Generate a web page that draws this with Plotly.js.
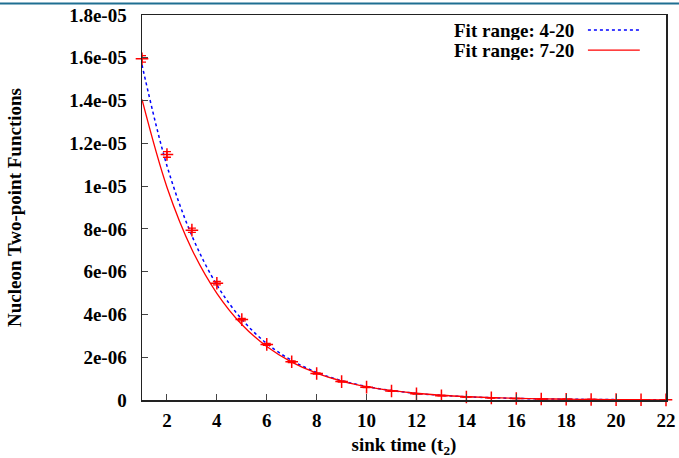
<!DOCTYPE html>
<html><head><meta charset="utf-8">
<script src="https://cdn.plot.ly/plotly-3.0.1.min.js"></script>
<style>html,body{margin:0;padding:0;background:#fff}</style>
</head><body><div id="chart" style="width:679px;height:458px"></div>
<script>
const sinkTime = [1,2,3,4,5,6,7,8,9,10,11,12,13,14,15,16,17,18,19,20,21,22];
const twoPoint = [1.595e-5,1.148e-5,7.94e-6,5.46e-6,3.76e-6,2.60e-6,1.79e-6,1.24e-6,8.6e-7,6.0e-7,4.2e-7,2.9e-7,2.0e-7,1.4e-7,1.0e-7,7e-8,5e-8,3.5e-8,2.4e-8,1.7e-8,1.2e-8,8e-9];
const twoPointErr = [1.5e-7,1.3e-7,1.0e-7,8e-8,6e-8,5e-8,4e-8,3e-8,2.5e-8,2e-8,1.5e-8,1.2e-8,1e-8,8e-9,6e-9,5e-9,4e-9,3e-9,3e-9,2e-9,2e-9,2e-9];
const fitTime = [1,2,3,4,5,6,7,8,9,10,11,12,13,14,15,16,17,18,19,20,21,22];
const fit4to20 = [1.567e-5,1.095e-5,7.68e-6,5.38e-6,3.77e-6,2.64e-6,1.85e-6,1.29e-6,9.05e-7,6.34e-7,4.44e-7,3.11e-7,2.18e-7,1.52e-7,1.07e-7,7.5e-8,5.2e-8,3.7e-8,2.6e-8,1.8e-8,1.2e-8,9e-9];
const fit7to20 = [1.405e-5,9.95e-6,7.04e-6,4.99e-6,3.53e-6,2.50e-6,1.77e-6,1.253e-6,8.87e-7,6.28e-7,4.45e-7,3.15e-7,2.23e-7,1.58e-7,1.12e-7,7.9e-8,5.6e-8,4.0e-8,2.8e-8,2.0e-8,1.4e-8,1.0e-8];
const seriesNames = ['Fit range: 4-20','Fit range: 7-20'];
const yTickVals = [0,2e-6,4e-6,6e-6,8e-6,1e-5,1.2e-5,1.4e-5,1.6e-5,1.8e-5];
const yTickText = ['0','2e-06','4e-06','6e-06','8e-06','1e-05','1.2e-05','1.4e-05','1.6e-05','1.8e-05'];
const xTickVals = [2,4,6,8,10,12,14,16,18,20,22];
const xTitle = 'sink time (t<sub>2</sub>)';
const yTitle = 'Nucleon Two-point Functions';

const FONT = 'Liberation Serif, DejaVu Serif, serif';
const FS = 19;
const traces = [
  {x: fitTime, y: fit4to20, type: 'scatter', mode: 'lines', name: seriesNames[0],
   line: {color: '#0000ff', width: 1.5, dash: 'dot', shape: 'spline'}},
  {x: fitTime, y: fit7to20, type: 'scatter', mode: 'lines', name: seriesNames[1],
   line: {color: '#ff0000', width: 1.3, shape: 'spline'}},
  {x: sinkTime, y: twoPoint, type: 'scatter', mode: 'markers', name: 'data', cliponaxis: false,
   marker: {symbol: 'cross-thin-open', size: 9, color: '#ff0000', line: {color: '#ff0000', width: 1.5}},
   error_y: {type: 'data', array: twoPointErr, visible: true, color: '#ff0000', thickness: 1.3, width: 4}}
];
const layout = {
  width: 679, height: 458,
  margin: {l: 142, r: 13, t: 15, b: 58},
  paper_bgcolor: '#fff', plot_bgcolor: '#fff',
  showlegend: false,
  font: {family: FONT, color: '#000'},
  xaxis: {range: [1, 22], tickvals: xTickVals, ticks: 'inside', ticklen: 6, tickcolor: '#444',
    showgrid: false, zeroline: false, showline: true, mirror: true, linecolor: '#222', linewidth: 1.5,
    tickfont: {family: FONT, size: FS, weight: 'bold'}, ticklabelstandoff: 3,
    title: {text: xTitle, font: {family: FONT, size: FS, weight: 'bold'}, standoff: 10}},
  yaxis: {range: [0, 1.8e-5], tickvals: yTickVals, ticktext: yTickText, ticks: 'inside', ticklen: 6, tickcolor: '#444',
    showgrid: false, zeroline: false, showline: true, mirror: true, linecolor: '#222', linewidth: 1.5,
    tickfont: {family: FONT, size: FS, weight: 'bold'}, ticklabelstandoff: 10,
    title: {text: yTitle, font: {family: FONT, size: FS, weight: 'bold'}, standoff: 42}},
  annotations: [
    {xref: 'paper', yref: 'paper', x: 0.828, y: 0.961, xanchor: 'right', yanchor: 'middle', showarrow: false, height: 20, valign: 'middle',
     text: seriesNames[0], font: {family: FONT, size: FS, weight: 'bold'}},
    {xref: 'paper', yref: 'paper', x: 0.828, y: 0.909, xanchor: 'right', yanchor: 'middle', showarrow: false, height: 20, valign: 'middle',
     text: seriesNames[1], font: {family: FONT, size: FS, weight: 'bold'}}
  ],
  shapes: [
    {type: 'line', xref: 'paper', yref: 'paper', x0: 0.851, x1: 0.950, y0: 0.961, y1: 0.961,
     line: {color: '#0000ff', width: 1.5, dash: 'dot'}},
    {type: 'line', xref: 'paper', yref: 'paper', x0: 0.851, x1: 0.950, y0: 0.909, y1: 0.909,
     line: {color: '#ff0000', width: 1.3}},
    {type: 'line', xref: 'paper', yref: 'paper', x0: -0.3, x1: 1.1, y0: 1.03, y1: 1.03,
     line: {color: '#1f6f92', width: 2}}
  ]
};
Plotly.newPlot('chart', traces, layout, {displayModeBar: false, staticPlot: true});
</script></body></html>
